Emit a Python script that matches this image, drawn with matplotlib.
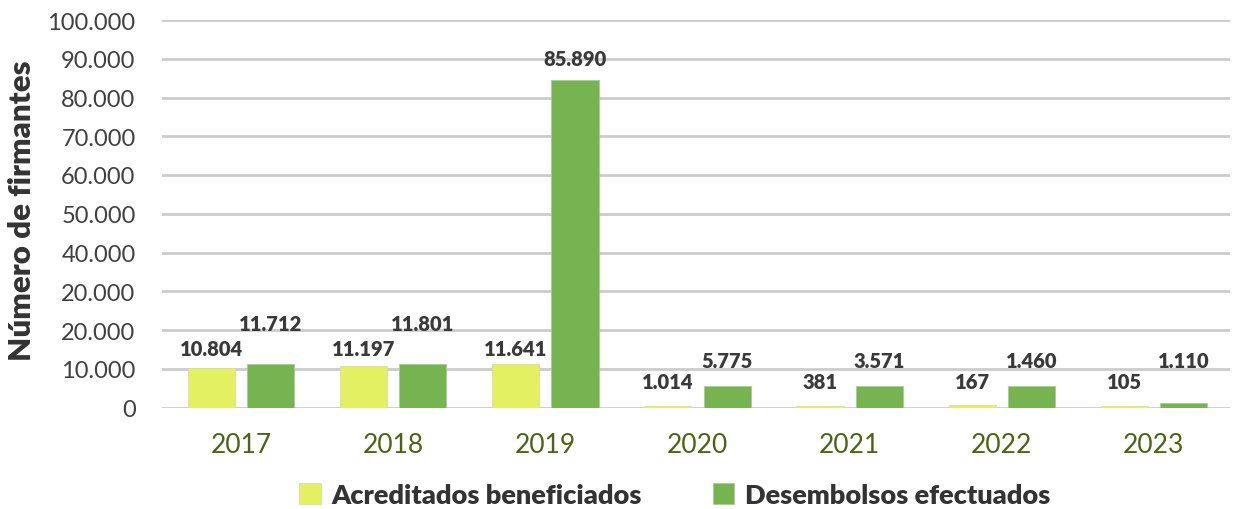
import matplotlib
matplotlib.use("Agg")
import matplotlib.pyplot as plt
import numpy as np

years = ["2017", "2018", "2019", "2020", "2021", "2022", "2023"]
# bar heights as drawn in the picture
acreditados = [10300, 10800, 11300, 400, 400, 550, 400]
desembolsos = [11300, 11300, 84500, 5550, 5550, 5550, 1100]
# printed data labels
acreditados_lbl = ["10.804", "11.197", "11.641", "1.014", "381", "167", "105"]
desembolsos_lbl = ["11.712", "11.801", "85.890", "5.775", "3.571", "1.460", "1.110"]
acreditados_lbl_y = [15100, 15100, 15100, 6600, 6600, 6600, 6600]
desembolsos_lbl_y = [21600, 21600, 90000, 12000, 12000, 12000, 12000]
ytick_values = [0, 10000, 20000, 30000, 40000, 50000, 60000, 70000, 80000, 90000, 100000]
ytick_labels = ["0", "10.000", "20.000", "20.000", "40.000", "50.000", "60.000",
                "70.000", "80.000", "90.000", "100.000"]
series_names = ["Acreditados beneficiados", "Desembolsos efectuados"]

c_acr = "#e3f062"
c_des = "#76b451"
txt = "#3a3a3a"

plt.rcParams['font.family'] = ['Lato', 'DejaVu Sans']

fig = plt.figure(figsize=(12.35, 5.1), dpi=100)
ax = fig.add_axes([162/1235, (510-408.5)/510, (1230-162)/1235, (408.5-21)/510])

x = np.arange(len(years))
w = 0.31
off = 0.195
b1 = ax.bar(x - off, acreditados, w, color=c_acr, edgecolor="#d8e0a0", linewidth=0.6,
            label=series_names[0], zorder=3)
b2 = ax.bar(x + off, desembolsos, w, color=c_des, edgecolor="#a8cc90", linewidth=0.6,
            label=series_names[1], zorder=3)

for i in range(len(years)):
    ax.text(x[i] - off, acreditados_lbl_y[i], acreditados_lbl[i], ha="center", va="center",
            fontsize=14.5, fontweight="heavy", color=txt, zorder=4)
    ax.text(x[i] + off, desembolsos_lbl_y[i], desembolsos_lbl[i], ha="center", va="center",
            fontsize=14.5, fontweight="heavy", color=txt, zorder=4)

ax.set_xlim(-0.52, 6.5)
ax.set_ylim(0, 100000)
ax.set_yticks(ytick_values)
ax.set_yticklabels(ytick_labels, fontsize=17, color="#404040")
ax.set_xticks(x)
ax.set_xticklabels(years, fontsize=19, color="#4a6414")
ax.tick_params(axis="y", length=0, pad=19)
ax.tick_params(axis="x", length=0, pad=18)
ax.grid(axis="y", color="#cccccc", linewidth=2, zorder=0)
ax.set_axisbelow(True)
for s in ax.spines.values():
    s.set_visible(False)

ax.set_ylabel("Número de firmantes", fontsize=22.5, fontweight="heavy", color="#333333")
ax.yaxis.set_label_coords(-0.118, 0.51)

leg = fig.legend(handles=[b1, b2], labels=series_names, loc="center",
                 bbox_to_anchor=(675/1235, 14/510), ncol=2, frameon=False,
                 prop={"size": 19.5, "weight": "heavy"}, handlelength=0.8, handleheight=0.8,
                 columnspacing=2.6, handletextpad=0.4)
for t in leg.get_texts():
    t.set_color("#333333")

fig.savefig("out.png", dpi=100, facecolor="white")
